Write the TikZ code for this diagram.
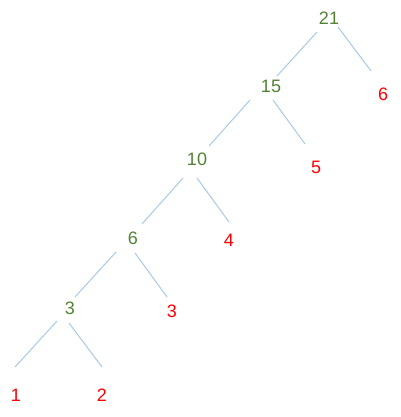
\documentclass[tikz,border=0pt]{standalone}
\usepackage{fontspec}
\setmainfont{Liberation Sans}
\definecolor{inner}{HTML}{538135}
\definecolor{leaf}{HTML}{FF0000}
\definecolor{edge}{HTML}{A9C9EA}
\begin{document}
\begin{tikzpicture}[x=1pt,y=-1pt,
  num/.style={font=\fontsize{18}{18}\selectfont, inner sep=0pt},
  innum/.style={num, text=inner},
  leafnum/.style={num, text=leaf},
  edgeline/.style={draw=edge, line width=1pt}]
\useasboundingbox (0,0) rectangle (400,417);
\node[innum] (n21) at (329,18) {21};
\node[leafnum] (l6) at (383,94) {6};
\node[innum] (n15) at (271,86) {15};
\node[leafnum] (l5) at (316,167) {5};
\node[innum] (n10) at (197,159) {10};
\node[leafnum] (l4) at (229,240) {4};
\node[innum] (n6) at (133,238) {6};
\node[leafnum] (l3) at (172,311) {3};
\node[innum] (n3) at (70,308) {3};
\node[leafnum] (l1) at (16,395) {1};
\node[leafnum] (l2) at (102,395) {2};
\draw[edgeline] ([shift={(-12,14)}]n21.center) -- ([shift={(6,-10)}]n15.center);
\draw[edgeline] ([shift={(9,9)}]n21.center) -- ([shift={(-12,-23)}]l6.center);
\draw[edgeline] ([shift={(-21,14)}]n15.center) -- ([shift={(12,-13)}]n10.center);
\draw[edgeline] ([shift={(2,14)}]n15.center) -- ([shift={(-11,-23)}]l5.center);
\draw[edgeline] ([shift={(-14,19)}]n10.center) -- ([shift={(9,-14)}]n6.center);
\draw[edgeline] ([shift={(0,19)}]n10.center) -- ([shift={(0,-18)}]l4.center);
\draw[edgeline] ([shift={(-17,14)}]n6.center) -- ([shift={(5,-11)}]n3.center);
\draw[edgeline] ([shift={(2,15)}]n6.center) -- ([shift={(-5,-14)}]l3.center);
\draw[edgeline] ([shift={(-13,13)}]n3.center) -- ([shift={(-1,-28)}]l1.center);
\draw[edgeline] ([shift={(-1,15)}]n3.center) -- ([shift={(0,-28)}]l2.center);
\end{tikzpicture}
\end{document}
